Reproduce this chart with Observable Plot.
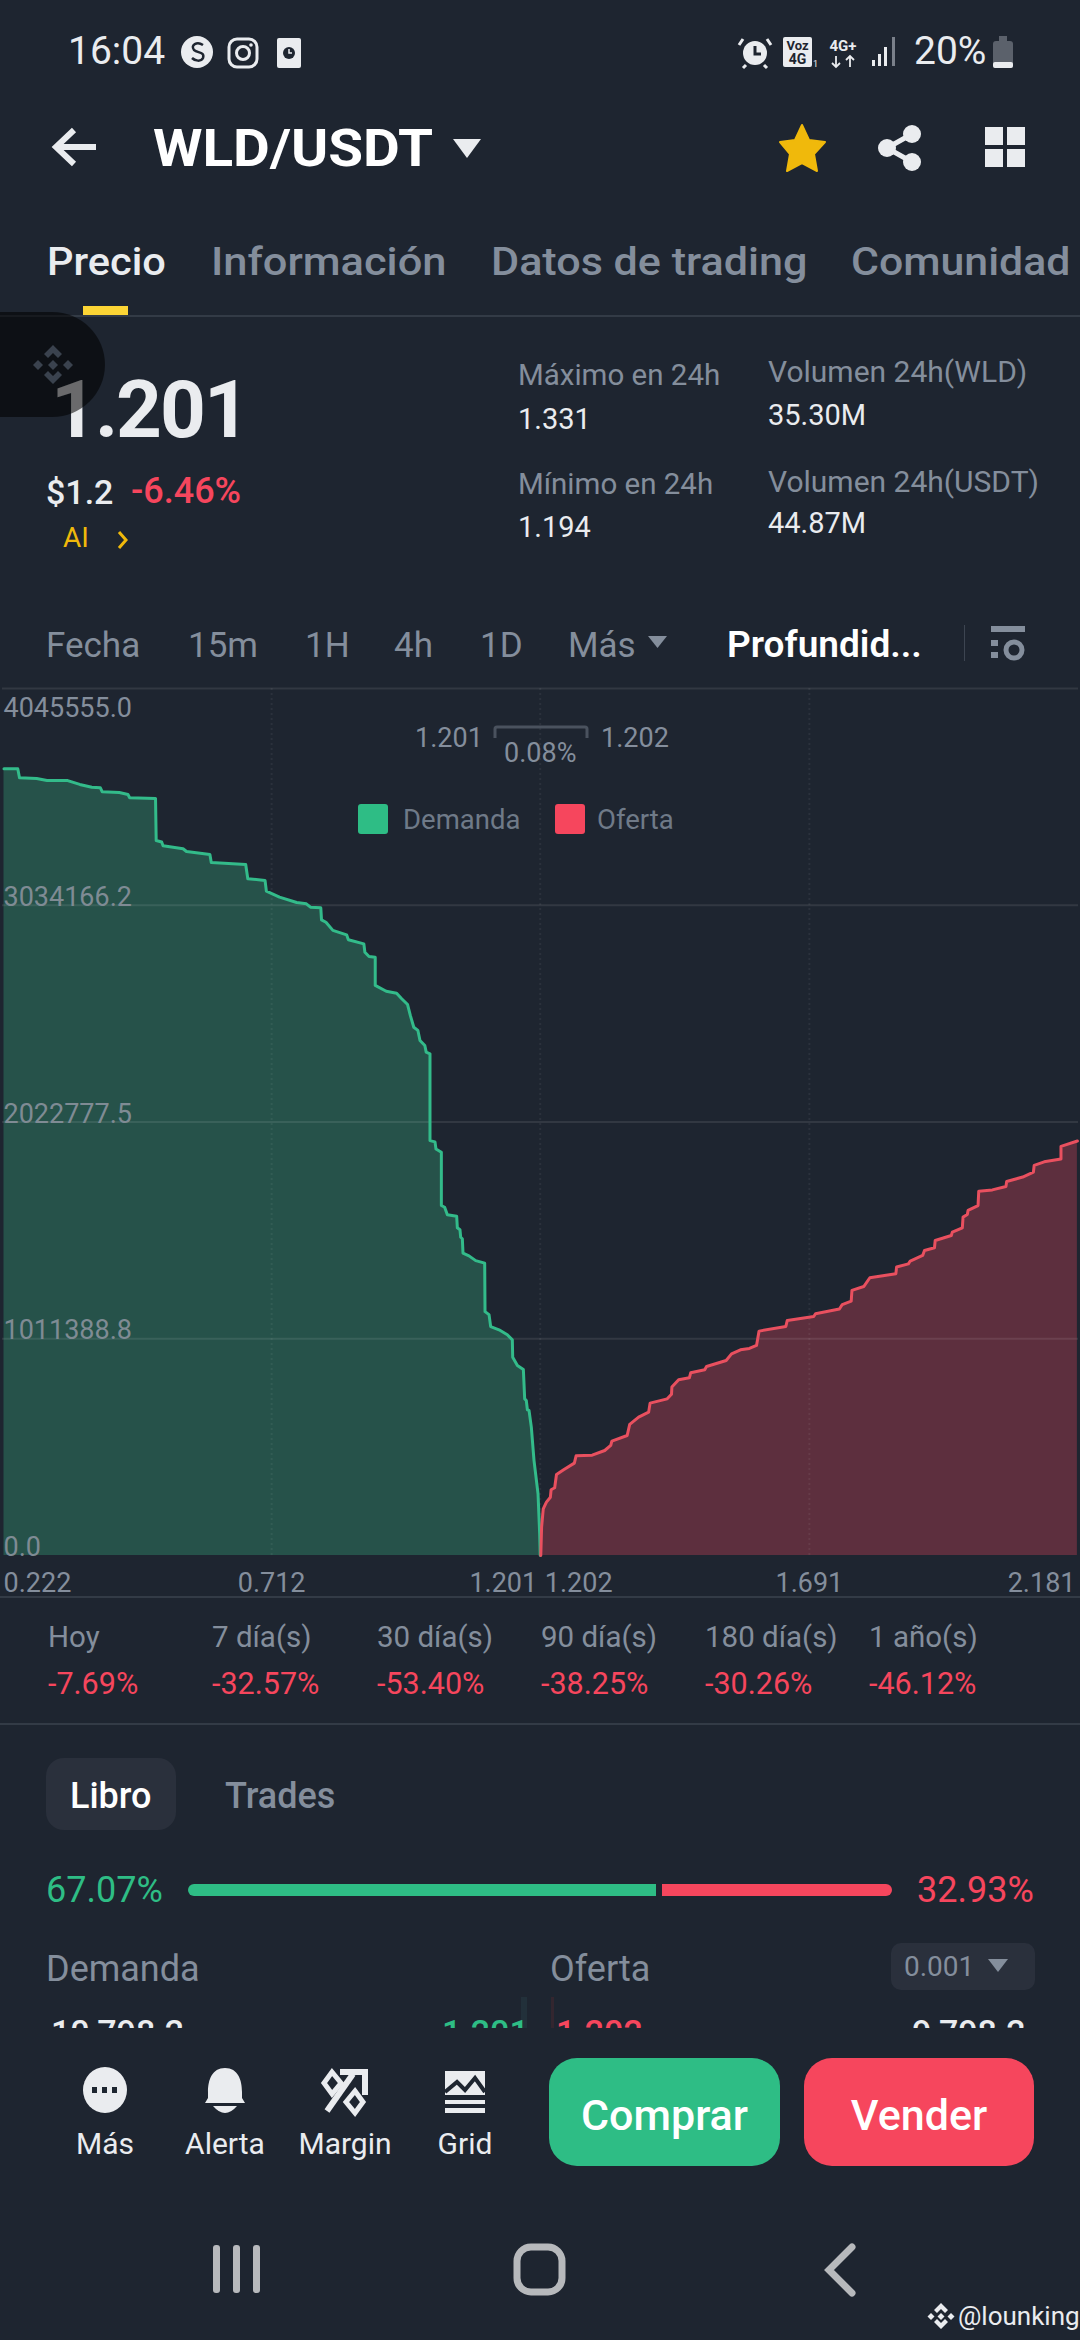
<!DOCTYPE html>
<html lang="es"><head><meta charset="utf-8">
<script src="https://cdn.jsdelivr.net/npm/d3@7"></script>
<script src="https://cdn.jsdelivr.net/npm/@observablehq/plot@0.6"></script>
<style>
html,body{margin:0;padding:0;background:#1e2530}
body{width:1080px;height:2340px;position:relative;overflow:hidden;font-family:Roboto,sans-serif;color:#eaecef}
.t{position:absolute;white-space:nowrap;line-height:1}
.d{position:absolute;left:0;width:1080px}
svg.ic{position:absolute;left:0;top:0;width:1080px;height:2340px;pointer-events:none}
#chart{position:absolute;left:0;top:680px}
#chart svg{display:block}
#labels{position:absolute;left:0;top:0;width:1080px;height:2340px;z-index:2}
#clip{z-index:2}
#float{position:absolute;left:0;top:312px;width:105px;height:105px;background:rgba(0,0,0,.55);border-radius:0 53px 53px 0;z-index:3}
</style></head><body>
<div id="chart"></div>
<svg class="ic" viewBox="0 0 1080 2340" id="icons">
 <!-- status bar -->
 <circle cx="197" cy="52" r="16" fill="#eaecef"/><path d="M203 45c-6-4-13 0-9 5 4 3 11 2 9 8-2 4-8 3-11 0" fill="none" stroke="#1e2530" stroke-width="2.5"/>
 <rect x="229" y="39" width="28" height="28" rx="8" fill="none" stroke="#eaecef" stroke-width="3"/><circle cx="243" cy="53" r="6.5" fill="none" stroke="#eaecef" stroke-width="3"/><circle cx="251" cy="45" r="1.8" fill="#eaecef"/>
 <rect x="277" y="38" width="24" height="30" rx="2" fill="#eaecef"/><circle cx="289" cy="53" r="6" fill="#1e2530"/><path d="M289 49v4h3" stroke="#eaecef" stroke-width="1.5" fill="none"/>
 <circle cx="755" cy="53" r="12" fill="#eaecef"/><path d="M755 46v8h6" stroke="#1e2530" stroke-width="3" fill="none"/><path d="M743 39l-4 6M767 39l4 6M746 65l-3 3M764 65l3 3" stroke="#eaecef" stroke-width="3"/>
 <rect x="783" y="37" width="29" height="30" rx="2" fill="#eaecef"/><text x="797.5" y="50" font-size="13" font-weight="700" text-anchor="middle" fill="#1e2530" font-family="Roboto">Voz</text><text x="797.5" y="64" font-size="14" font-weight="700" text-anchor="middle" fill="#1e2530" font-family="Roboto">4G</text><text x="813" y="67" font-size="9" fill="#eaecef" font-family="Roboto">1</text>
 <text x="843" y="51" font-size="15" font-weight="700" text-anchor="middle" fill="#eaecef" font-family="Roboto">4G+</text><path d="M836 56v11M832 63l4 4 4-4M850 67V56M846 60l4-4 4 4" stroke="#eaecef" stroke-width="1.8" fill="none"/>
 <rect x="872" y="60" width="3" height="6" fill="#eaecef"/><rect x="878" y="54" width="3" height="12" fill="#eaecef"/><rect x="884" y="47" width="3" height="19" fill="#eaecef"/><rect x="892" y="37" width="3" height="29" fill="#7a808a"/>
 <rect x="993" y="41" width="20" height="27" rx="3" fill="#5b616b"/><rect x="999" y="36" width="8" height="6" fill="#5b616b"/><rect x="993" y="62" width="20" height="6" rx="2" fill="#eaecef"/>
 <!-- nav -->
 <path d="M96 147H58M74 130L56 147l18 17" fill="none" stroke="#eaecef" stroke-width="6"/>
 <path d="M453 139h28l-14 19z" fill="#eaecef"/>
 <path d="M802 125l7 15 16 2-11 12 3 17-15-8-15 8 3-17-10-12 15-2z" fill="#f0b90b" stroke="#f0b90b" stroke-width="2" stroke-linejoin="round"/>
 <path d="M912 134l-25 14 25 14" fill="none" stroke="#eaecef" stroke-width="5"/><circle cx="912" cy="134" r="9" fill="#eaecef"/><circle cx="887" cy="148" r="9" fill="#eaecef"/><circle cx="912" cy="162" r="9" fill="#eaecef"/>
 <rect x="985" y="127" width="18" height="18" fill="#eaecef"/><rect x="1007" y="127" width="18" height="18" fill="#eaecef"/><rect x="985" y="149" width="18" height="18" fill="#eaecef"/><rect x="1007" y="149" width="18" height="18" fill="#eaecef"/>
 <rect x="83" y="306" width="45" height="9" fill="#fcd535"/>
 <path d="M119 532l7 8-7 8" fill="none" stroke="#f0b90b" stroke-width="3"/>
 <!-- time row -->
 <path d="M648 636h19l-9.500 12z" fill="#848e9c"/>
 <rect x="964" y="625" width="1" height="36" fill="#3d4551"/>
 <rect x="991" y="626" width="34" height="6" fill="#848e9c"/><rect x="991" y="640" width="7" height="6" fill="#848e9c"/><rect x="991" y="652" width="7" height="6" fill="#848e9c"/><circle cx="1014" cy="650" r="8" fill="none" stroke="#848e9c" stroke-width="5"/>
 <!-- mid price bracket -->
 <path d="M495 738v-9q0-2 2-2h88q2 0 2 2v9" fill="none" stroke="#4a525e" stroke-width="3"/>
 <!-- pill -->
 <rect x="46" y="1758" width="130" height="72" rx="18" fill="#2a303c"/>
 <rect x="891" y="1943" width="144" height="47" rx="10" fill="#2a303c"/>
 <path d="M988 1959h20l-10 13z" fill="#848e9c"/>
 <rect x="521" y="1997" width="6" height="31" fill="#22303a"/><rect x="551" y="1997" width="3" height="31" fill="#33262f"/>
 <!-- bottom bar -->
 <ellipse cx="105" cy="2090" rx="22" ry="23" fill="#eaecef"/><rect x="92" y="2087" width="5" height="6" fill="#1e2530"/><rect x="102" y="2087" width="5" height="6" fill="#1e2530"/><rect x="112" y="2087" width="5" height="6" fill="#1e2530"/>
 <path d="M225 2068c-13 0-17 12-17 24v6l-3 5h40l-3-5v-6c0-12-4-24-17-24z" fill="#eaecef"/><path d="M213 2106h24q-12 14-24 0z" fill="#eaecef"/>
 <path d="M327 2111l26-37" stroke="#eaecef" stroke-width="6"/><path d="M340 2072h25v23" fill="none" stroke="#eaecef" stroke-width="6"/><path d="M332 2072l9 11-9 11-8-11z" fill="none" stroke="#eaecef" stroke-width="5"/><path d="M355 2091l8 11-8 11-9-11z" fill="none" stroke="#eaecef" stroke-width="5"/>
 <path d="M445 2071h40v24h-40z" fill="#eaecef"/><path d="M445 2092l12-10 8 8 10-12 10 14" fill="none" stroke="#1e2530" stroke-width="4"/><rect x="445" y="2100" width="40" height="4" fill="#eaecef"/><rect x="445" y="2108" width="40" height="5" fill="#eaecef"/>
 <rect x="549" y="2058" width="231" height="108" rx="28" fill="#2ebd85"/>
 <rect x="804" y="2058" width="230" height="108" rx="28" fill="#f6465d"/>
 <!-- android nav -->
 <g fill="#b7b9bc"><rect x="213" y="2245" width="7" height="48" rx="3"/><rect x="233" y="2245" width="7" height="48" rx="3"/><rect x="253" y="2245" width="7" height="48" rx="3"/></g>
 <rect x="517" y="2247" width="45" height="45" rx="14" fill="none" stroke="#b7b9bc" stroke-width="7"/>
 <path d="M852 2247l-23 23 23 23" fill="none" stroke="#b7b9bc" stroke-width="7" stroke-linecap="round" stroke-linejoin="miter"/>
 <!-- watermark -->
 <g fill="#eaecef"><path d="M941 2303l7 7-3 3-4-4-4 4-3-3z"/><path d="M941 2329l-7-7 3-3 4 4 4-4 3 3z"/><path d="M931 2313l3.500 3.500-3.500 3.500-3.500-3.500z"/><path d="M951 2313l3.500 3.500-3.500 3.500-3.500-3.500z"/><path d="M941 2313l3.500 3.500-3.500 3.500-3.500-3.500z"/></g>
</svg>
<div id="labels"></div>
<div id="clip" style="position:absolute;left:0;top:2000px;width:1080px;height:28px;overflow:hidden"></div>
<div id="float"><svg width="105" height="105" viewBox="0 312 105 105" style="display:block"><g fill="#3a424e"><path d="M53 345l9 9-4 4-5-5-5 5-4-4z"/><path d="M53 384l-9-9 4-4 5 5 5-5 4 4z"/><path d="M38 360l5 5-5 5-5-5z"/><path d="M68 360l5 5-5 5-5-5z"/><path d="M53 360l5 5-5 5-5-5z"/></g></svg></div>
<script>
// ---- depth chart values (price, cumulative depth) ----
const demandPrice = [0.2247,0.2498,0.2529,0.2842,0.3030,0.3407,0.3626,0.3846,0.4002,0.4034,0.4347,0.4504,0.4535,0.5006,0.5018,0.5118,0.5143,0.5507,0.5570,0.5996,0.6021,0.6648,0.6686,0.7000,0.7024,0.7263,0.7576,0.7752,0.7827,0.8015,0.8028,0.8109,0.8235,0.8485,0.8517,0.8799,0.8818,0.8893,0.9006,0.9006,0.9206,0.9395,0.9488,0.9595,0.9645,0.9708,0.9783,0.9821,0.9909,0.9934,1.0003,1.0003,1.0094,1.0112,1.0210,1.0210,1.0270,1.0319,1.0489,1.0501,1.0549,1.0562,1.0592,1.0604,1.0713,1.0835,1.0999,1.1005,1.1078,1.1108,1.1260,1.1411,1.1502,1.1509,1.1594,1.1703,1.1727,1.1757,1.1776,1.1806,1.1848,1.1897,1.1970,1.2000,1.2010];
const demandDepth = [3671,3671,3629,3626,3616,3616,3598,3585,3582,3564,3560,3551,3536,3532,3336,3329,3312,3298,3285,3271,3234,3224,3158,3150,3100,3072,3047,3041,3025,3022,2966,2955,2917,2896,2873,2854,2815,2795,2792,2660,2633,2624,2598,2571,2520,2465,2450,2403,2380,2349,2341,1936,1930,1897,1882,1633,1625,1590,1583,1529,1520,1485,1478,1411,1398,1376,1364,1138,1124,1068,1053,1030,1006,925,887,868,731,723,680,677,599,443,288,101,0];
const offerPrice = [1.2020,1.2035,1.2065,1.2123,1.2195,1.2208,1.2273,1.2306,1.2436,1.2631,1.2663,1.2956,1.3184,1.3294,1.3314,1.3593,1.3639,1.3802,1.3984,1.4010,1.4322,1.4400,1.4407,1.4530,1.4725,1.4751,1.5005,1.5038,1.5395,1.5493,1.5656,1.5818,1.5948,1.5994,1.6482,1.6508,1.6989,1.7022,1.7457,1.7509,1.7672,1.7685,1.7900,1.8011,1.8485,1.8498,1.8713,1.8746,1.8973,1.9006,1.9188,1.9201,1.9494,1.9513,1.9695,1.9708,1.9786,1.9799,1.9981,1.9994,2.0242,2.0489,2.0502,2.0795,2.0989,2.1003,2.1185,2.1491,2.1491,2.1790];
const offerDepth = [0,132,218,249,272,307,316,378,400,431,465,468,490,514,534,560,612,646,669,711,731,752,786,820,829,853,867,882,910,941,960,966,980,1047,1069,1097,1115,1128,1150,1171,1187,1237,1255,1296,1315,1346,1361,1374,1400,1423,1436,1470,1493,1509,1529,1579,1591,1610,1633,1700,1706,1722,1745,1766,1789,1820,1837,1850,1909,1934];
const depthUnit = 1000;
const yTicksLower = [0,1011388.8,2022777.5,3034166.2];
const yTickTop = [4045555.0];
const xTickFirst = [0.222];
const xTickAsk = [1.202];
const xTicksMiddle = [0.712,1.691];
const xTicksEnd = [1.201,2.181];
const xGuides = [0.712,1.201,1.691];

// ---- page texts ----
const periods = ["Hoy","7 día(s)","30 día(s)","90 día(s)","180 día(s)","1 año(s)"];
const periodChanges = ["-7.69%","-32.57%","-53.40%","-38.25%","-30.26%","-46.12%"];
const tabs = ["Precio","Información","Datos de trading","Comunidad"];
const intervals = ["Fecha","15m","1H","4h","1D","Más"];
const bidShare = 67.07, askShare = 32.93;

const toRows = (p,d)=>p.map((price,i)=>({price,depth:d[i]*depthUnit}));
const demand = toRows(demandPrice,demandDepth);
const offer = toRows(offerPrice,offerDepth);

const GREEN="#33bb8a", RED="#e9505f";
const fmtY=d=>d.toFixed(1), fmtX=d=>d.toFixed(3);
const chart = Plot.plot({
  width:1080,height:920,marginTop:8,marginBottom:45,marginLeft:2,marginRight:2,
  style:{background:"transparent",fontFamily:"Roboto,sans-serif",fontSize:"27px",overflow:"visible"},
  x:{domain:[0.222,2.181]},
  y:{domain:[0,4045555]},
  marks:[
    Plot.areaY(demand,{x:"price",y1:0,y2:"depth",fill:"#26524a"}),
    Plot.areaY(offer,{x:"price",y1:0,y2:"depth",fill:"#5d2f3e"}),
    Plot.ruleY([...yTicksLower.slice(1),...yTickTop],{stroke:"#ffffff",strokeOpacity:0.09,strokeWidth:2}),
    Plot.ruleX(xGuides,{stroke:"#ffffff",strokeOpacity:0.06,strokeDasharray:"2 3",strokeWidth:2}),
    Plot.line(demand,{x:"price",y:"depth",stroke:GREEN,strokeWidth:3,strokeLinejoin:"round"}),
    Plot.line(offer,{x:"price",y:"depth",stroke:RED,strokeWidth:3,strokeLinejoin:"round"}),
    Plot.axisY(yTicksLower,{anchor:"left",tickSize:0,tickPadding:0,textAnchor:"start",dx:1,dy:-8,fill:"#7f8b94",tickFormat:fmtY,label:null}),
    Plot.axisY(yTickTop,{anchor:"left",tickSize:0,tickPadding:0,textAnchor:"start",dx:1,dy:20,fill:"#848e9c",tickFormat:fmtY,label:null}),
    Plot.axisX(xTickFirst,{anchor:"bottom",tickSize:0,textAnchor:"start",dx:1,dy:8,fill:"#848e9c",tickFormat:fmtX,label:null}),
    Plot.axisX(xTickAsk,{anchor:"bottom",tickSize:0,textAnchor:"start",dx:4,dy:8,fill:"#848e9c",tickFormat:fmtX,label:null}),
    Plot.axisX(xTicksMiddle,{anchor:"bottom",tickSize:0,textAnchor:"middle",dy:8,fill:"#848e9c",tickFormat:fmtX,label:null}),
    Plot.axisX(xTicksEnd,{anchor:"bottom",tickSize:0,textAnchor:"end",dx:-3,dy:8,fill:"#848e9c",tickFormat:fmtX,label:null})
  ]
});
document.getElementById("chart").appendChild(chart);

// baseline-positioned html text
const box=document.getElementById("labels");
function T(s,x,base,size,color,weight,extra,parent){
  const e=document.createElement("div");e.className="t";e.textContent=s;
  e.style.cssText=`left:${x}px;top:${base-size*0.86}px;font-size:${size}px;color:${color||"#eaecef"};font-weight:${weight||400};${extra||""}`;
  (parent||box).appendChild(e);return e;
}
function Line(y,h,c){const e=document.createElement("div");e.className="d";e.style.top=y+"px";e.style.height=h+"px";e.style.background=c;box.appendChild(e);}
const G="#848e9c",R="#f6465d",GN="#2ebd85",W="#eaecef";
const wide=k=>`transform:scaleX(${k});transform-origin:left center;`;
T("16:04",68,66,39,W);T("20%",914,66,39,W);
T("WLD/USDT",153,168,52,"#fff",700,wide(1.088));
const tabX=[47,211,491,851],tabW=[1.065,1.113,1.105,1.098];
tabs.forEach((s,i)=>T(s,tabX[i],277,39,i?G:W,500,wide(tabW[i])));
Line(315,2,"#333b46");
T("1.201",51,439,80,W,700,"letter-spacing:-2px;");
T("$1.2",46,504,34,W,500);T("-6.46%",131,504,36,R,500);
T("AI",63,548,28,"#f0b90b");
T("Máximo en 24h",518,386,29.5,G);T("1.331",518,430,29,W);
T("Mínimo en 24h",518,495,29.5,G);T("1.194",518,538,29,W);
T("Volumen 24h(WLD)",768,383,30,G);T("35.30M",768,426,29,W);
T("Volumen 24h(USDT)",768,493,30,G);T("44.87M",768,534,29,W);
const intX=[46,188,305,394,480,568];
intervals.forEach((s,i)=>T(s,intX[i],658,35,G));
T("Profundid...",727,658,37,"#fff",600);
// depth mid price + legend overlay
T("1.201",415,748,27,G);T("1.202",601,748,27,G);T("0.08%",504,763,27,G);
const sq=(x,c)=>{const e=document.createElement("div");e.style.cssText=`position:absolute;left:${x}px;top:804px;width:30px;height:30px;border-radius:3px;background:${c}`;box.appendChild(e)};
sq(358,GN);T("Demanda",403,830,27.5,"#6f7a88");sq(555,R);T("Oferta",597,830,27.5,"#6f7a88");
Line(1596,2,"#333b46");
const perX=[48,212,377,541,705,869];
periods.forEach((s,i)=>T(s,perX[i],1648,29.5,G));
periodChanges.forEach((s,i)=>T(s,perX[i],1695,30.5,R));
Line(1723,2,"#333b46");
T("Libro",70,1809,36,"#fff",500);T("Trades",225,1809,36,G,500);
T(bidShare.toFixed(2)+"%",46,1903,36,GN);T(askShare.toFixed(2)+"%",917,1903,36,R);
// ratio bar from the two shares
const barL=188,barW=704,gap=6;
const b1=document.createElement("div");b1.style.cssText=`position:absolute;left:${barL}px;top:1884px;height:12px;width:${(barW-gap)*bidShare/100}px;background:${GN};border-radius:6px 0 0 6px`;box.appendChild(b1);
const b2=document.createElement("div");b2.style.cssText=`position:absolute;left:${barL+gap+(barW-gap)*bidShare/100}px;top:1884px;height:12px;width:${(barW-gap)*askShare/100}px;background:${R};border-radius:0 6px 6px 0`;box.appendChild(b2);
T("Demanda",46,1982,36,G);T("Oferta",550,1982,36,G);
T("0.001",904,1977,28,G);
// clipped first order-book row
const clip=document.getElementById("clip");
T("10,798.2",51,44,34,W,500,"",clip);
T("1.201",442,44,34,GN,500,"",clip);
T("1.202",556,44,34,R,500,"",clip);
T("9,798.2",912,44,34,W,500,"",clip);
// bottom bar
const botL=["Más","Alerta","Margin","Grid"],botX=[105,225,345,465];
botL.forEach((s,i)=>T(s,botX[i],2155,30,W,400,"transform:translateX(-50%);"));
T("Comprar",664.5,2131,43,"#fff",500,"transform:translateX(-50%);");
T("Vender",919,2131,43,"#fff",500,"transform:translateX(-50%);");
T("@lounking",958,2325,26,W);
</script>
</body></html>
